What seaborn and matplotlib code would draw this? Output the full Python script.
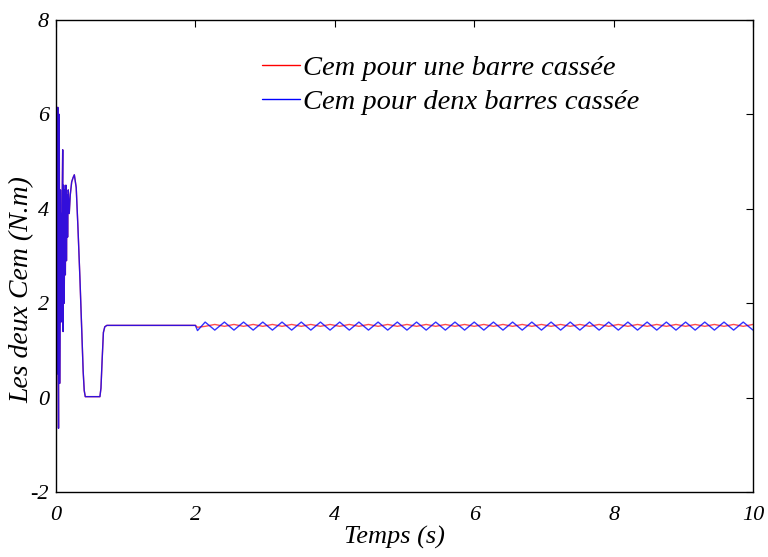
import pandas as pd
import seaborn as sns
import matplotlib.pyplot as plt

# start-up transient, both machines behave the same until t = 2 s
t_start = [0.000, 0.008, 0.014, 0.020, 0.026, 0.031, 0.036, 0.041, 0.047, 0.052,
           0.058, 0.064, 0.070, 0.076, 0.082, 0.088, 0.096, 0.102, 0.110, 0.118,
           0.126, 0.134, 0.142, 0.150, 0.158, 0.166, 0.176, 0.190, 0.205, 0.225,
           0.245, 0.263, 0.290, 0.315, 0.344, 0.370, 0.390, 0.405, 0.420, 0.630,
           0.645, 0.662, 0.680, 0.700, 0.730]
cem_start = [0.0, 4.2, 0.5, 5.6, 6.15, 1.0, -0.65, 4.8, 6.0, 0.3,
             2.3, 4.4, 1.6, 3.9, 1.7, 4.1, 5.25, 1.4, 4.5, 2.0,
             4.4, 2.6, 4.5, 2.9, 4.3, 3.4, 4.4, 3.9, 4.3, 4.57,
             4.66, 4.72, 4.45, 3.6, 2.5, 1.4, 0.55, 0.15, 0.02, 0.02,
             0.2, 0.8, 1.38, 1.5, 1.53]

# after the fault (t >= 2 s): peaks and troughs of the torque ripple
t_fault = [2.000, 2.030, 2.140, 2.278, 2.416, 2.553, 2.691, 2.829, 2.967, 3.105,
           3.243, 3.381, 3.519, 3.656, 3.794, 3.932, 4.070, 4.208, 4.346, 4.483,
           4.621, 4.759, 4.897, 5.035, 5.173, 5.311, 5.448, 5.586, 5.724, 5.862,
           6.000, 6.138, 6.276, 6.413, 6.551, 6.689, 6.827, 6.965, 7.103, 7.240,
           7.378, 7.516, 7.654, 7.792, 7.930, 8.068, 8.205, 8.343, 8.481, 8.619,
           8.757, 8.895, 9.033, 9.170, 9.308, 9.446, 9.584, 9.722, 9.860, 10.000]
cem_one_bar = [1.53, 1.49, 1.51, 1.55, 1.51, 1.55, 1.51, 1.55, 1.51, 1.55,
               1.51, 1.55, 1.51, 1.55, 1.51, 1.55, 1.51, 1.55, 1.51, 1.55,
               1.51, 1.55, 1.51, 1.55, 1.51, 1.55, 1.51, 1.55, 1.51, 1.55,
               1.51, 1.55, 1.51, 1.55, 1.51, 1.55, 1.51, 1.55, 1.51, 1.55,
               1.51, 1.55, 1.51, 1.55, 1.51, 1.55, 1.51, 1.55, 1.51, 1.55,
               1.51, 1.55, 1.51, 1.55, 1.51, 1.55, 1.51, 1.55, 1.51, 1.55]
cem_two_bars = [1.53, 1.42, 1.60, 1.43, 1.60, 1.43, 1.60, 1.43, 1.60, 1.43,
                1.60, 1.43, 1.60, 1.43, 1.60, 1.43, 1.60, 1.43, 1.60, 1.43,
                1.60, 1.43, 1.60, 1.43, 1.60, 1.43, 1.60, 1.43, 1.60, 1.43,
                1.60, 1.43, 1.60, 1.43, 1.60, 1.43, 1.60, 1.43, 1.60, 1.43,
                1.60, 1.43, 1.60, 1.43, 1.60, 1.43, 1.60, 1.43, 1.60, 1.43,
                1.60, 1.43, 1.60, 1.43, 1.60, 1.43, 1.60, 1.43, 1.60, 1.43]

labels = ['Cem pour une barre cassée', 'Cem pour denx barres cassée']
x_ticks = [0, 2, 4, 6, 8, 10]
y_ticks = [-2, 0, 2, 4, 6, 8]

sns.set_style('white')
plt.rcParams['font.family'] = ['Liberation Serif', 'DejaVu Serif']
plt.rcParams['font.style'] = 'italic'
plt.rcParams['text.color'] = 'black'
plt.rcParams['axes.labelcolor'] = 'black'
plt.rcParams['axes.unicode_minus'] = False

df_one = pd.DataFrame({'t': t_start + t_fault, 'cem': cem_start + cem_one_bar})
df_two = pd.DataFrame({'t': t_start + t_fault, 'cem': cem_start + cem_two_bars})

fig = plt.figure(figsize=(7.68, 5.57), dpi=100)
ax = fig.add_axes([56 / 768, 1 - 492 / 557, 697 / 768, 472 / 557])

sns.lineplot(data=df_one, x='t', y='cem', color='red', lw=1.0, alpha=0.7,
             estimator=None, sort=False, label=labels[0], ax=ax)
sns.lineplot(data=df_two, x='t', y='cem', color='blue', lw=1.0, alpha=0.8,
             estimator=None, sort=False, label=labels[1], ax=ax)

ax.set_xlim(0, 10)
ax.set_ylim(-2, 8)
ax.set_xticks(x_ticks)
ax.set_yticks(y_ticks)
ax.tick_params(direction='in', top=True, right=True, length=5, width=0.8,
               labelsize=16, colors='black')
ax.tick_params(axis='x', pad=10)
ax.tick_params(axis='y', pad=5)
for s in ax.spines.values():
    s.set_color('black')
    s.set_linewidth(1.0)

ax.set_xlabel('Temps (s)', fontsize=19, color='black')
ax.xaxis.set_label_coords((394 - 56) / 697, -(526 - 492) / 472)
ax.set_ylabel('')
fig.text(22 / 768, 1 - 290 / 557, 'Les deux Cem (N.m)', rotation=90,
         fontsize=20, ha='center', va='center', color='black')

leg = ax.legend(loc='center left', bbox_to_anchor=(262 / 768, 1 - 85 / 557),
                bbox_transform=fig.transFigure, frameon=False, fontsize=20.5,
                handlelength=1.35, handletextpad=0.1, labelspacing=0.3,
                borderpad=0, borderaxespad=0)
for line in leg.get_lines():
    line.set_alpha(1.0)
    line.set_linewidth(1.0)
for txt in leg.get_texts():
    txt.set_color('black')

fig.savefig('out.png', dpi=100)
plt.close(fig)
